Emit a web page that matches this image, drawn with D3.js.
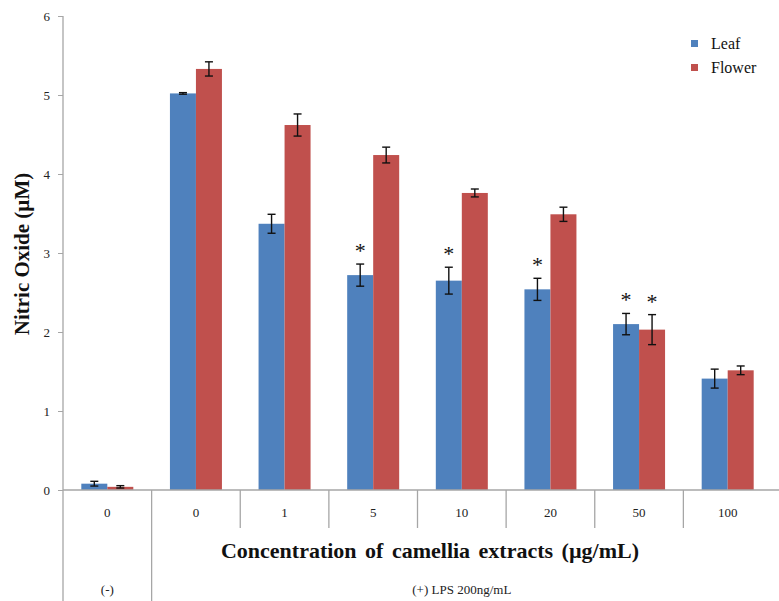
<!DOCTYPE html>
<html>
<head>
<meta charset="utf-8">
<script src="https://cdn.jsdelivr.net/npm/d3@7"></script>
<style>
  body { margin: 0; background: #fff; }
  svg { font-family: "Liberation Serif", "Times New Roman", serif; }
</style>
</head>
<body>
<div id="chart"></div>
<script>
// Nitric oxide production by camellia extracts (leaf vs flower)

const categories = ["0", "0", "1", "5", "10", "20", "50", "100"];
const seriesNames = ["Leaf", "Flower"];
const leafValues = [0.08, 5.02, 3.37, 2.72, 2.65, 2.54, 2.10, 1.41];
const leafErrors = [0.03, 0.01, 0.12, 0.14, 0.17, 0.14, 0.135, 0.12];
const flowerValues = [0.04, 5.33, 4.62, 4.24, 3.76, 3.49, 2.03, 1.515];
const flowerErrors = [0.015, 0.09, 0.14, 0.10, 0.05, 0.09, 0.19, 0.055];
// significance marks (true = asterisk above bar)
const leafStars = [false, false, false, true, true, true, true, false];
const flowerStars = [false, false, false, false, false, false, true, false];
const yTicks = [0, 1, 2, 3, 4, 5, 6];

const colors = { Leaf: "#4F81BD", Flower: "#C0504D" };

const W = 779, H = 601;
const margin = { top: 16, left: 63, right: 7, bottom: 111 };
const height = H - margin.top - margin.bottom;
const axisGrey = "#a6a6a6";

const svg = d3.select("#chart")
    .append("svg")
    .attr("width", W)
    .attr("height", H);

const x = d3.scaleBand()
    .domain(d3.range(categories.length))
    .range([margin.left, W - margin.right]);

const bw = 26;
const sub = d3.scaleBand()
    .domain(seriesNames)
    .range([x.bandwidth() / 2 - bw, x.bandwidth() / 2 + bw]);

const y = d3.scaleLinear()
    .domain([0, 6])
    .range([margin.top + height, margin.top]);

// build rows from the arrays
const rows = categories.map((c, i) => ({
    i: i,
    values: [
        { name: "Leaf", v: leafValues[i], e: leafErrors[i], star: leafStars[i] },
        { name: "Flower", v: flowerValues[i], e: flowerErrors[i], star: flowerStars[i] }
    ]
}));

// Y axis
const yAxis = svg.append("g")
    .attr("transform", `translate(${margin.left},0)`)
    .call(d3.axisLeft(y).tickValues(yTicks).tickSize(5).tickPadding(8).tickFormat(d3.format("d")));
yAxis.select(".domain").remove();
yAxis.selectAll(".tick line").attr("stroke", axisGrey);
yAxis.selectAll(".tick text")
    .style("font-size", "13px")
    .style("font-family", "'Liberation Serif', serif")
    .attr("fill", "#222");
// the vertical axis line runs down to the bottom of the category table
svg.append("line")
    .attr("x1", margin.left).attr("x2", margin.left)
    .attr("y1", y(6)).attr("y2", H)
    .attr("stroke", axisGrey).attr("stroke-width", 1.3);

// bars
const groups = svg.selectAll(".grp")
    .data(rows)
    .enter().append("g")
    .attr("transform", d => `translate(${x(d.i)},0)`);

groups.selectAll("rect")
    .data(d => d.values)
    .enter().append("rect")
    .attr("x", d => sub(d.name))
    .attr("width", sub.bandwidth())
    .attr("y", d => y(d.v))
    .attr("height", d => y(0) - y(d.v))
    .attr("fill", d => colors[d.name]);

// error bars
const err = groups.selectAll(".err")
    .data(d => d.values)
    .enter().append("g")
    .attr("transform", d => `translate(${sub(d.name) + sub.bandwidth() / 2},0)`)
    .attr("stroke", "#111")
    .attr("stroke-width", 1.4);
err.append("line")
    .attr("y1", d => y(d.v + d.e)).attr("y2", d => y(d.v - d.e));
err.append("line")
    .attr("x1", -4).attr("x2", 4)
    .attr("y1", d => y(d.v + d.e)).attr("y2", d => y(d.v + d.e));
err.append("line")
    .attr("x1", -4).attr("x2", 4)
    .attr("y1", d => y(d.v - d.e)).attr("y2", d => y(d.v - d.e));

// asterisks
groups.selectAll(".star")
    .data(d => d.values.filter(v => v.star))
    .enter().append("text")
    .attr("x", d => sub(d.name) + sub.bandwidth() / 2)
    .attr("y", d => y(d.v + d.e) - 6)
    .attr("text-anchor", "middle")
    .style("font-size", "22px")
    .attr("fill", "#111")
    .text("*");

// X axis line
svg.append("line")
    .attr("x1", margin.left).attr("x2", W)
    .attr("y1", y(0)).attr("y2", y(0))
    .attr("stroke", axisGrey).attr("stroke-width", 1.3);

// category separators
const seps = d3.range(1, categories.length);
svg.selectAll(".sep")
    .data(seps)
    .enter().append("line")
    .attr("x1", d => x(d)).attr("x2", d => x(d))
    .attr("y1", y(0))
    .attr("y2", d => d === 1 ? H : y(0) + 38)
    .attr("stroke", axisGrey).attr("stroke-width", 1.3);

// category labels
svg.selectAll(".cat")
    .data(categories)
    .enter().append("text")
    .attr("x", (d, i) => x(i) + x.bandwidth() / 2)
    .attr("y", y(0) + 27)
    .attr("text-anchor", "middle")
    .style("font-size", "13px")
    .attr("fill", "#222")
    .text(d => d);

// group labels
svg.append("text")
    .attr("x", x(0) + x.bandwidth() / 2)
    .attr("y", 594)
    .attr("text-anchor", "middle")
    .style("font-size", "13px")
    .attr("fill", "#222")
    .text("(-)");
svg.append("text")
    .attr("x", (x(1) + x.range()[1]) / 2)
    .attr("y", 594)
    .attr("text-anchor", "middle")
    .style("font-size", "13px")
    .attr("fill", "#222")
    .text("(+) LPS 200ng/mL");

// axis titles
svg.append("text")
    .attr("x", 430)
    .attr("y", 558)
    .attr("text-anchor", "middle")
    .style("font-size", "22px")
    .style("font-weight", "bold")
    .style("word-spacing", "3px")
    .attr("fill", "#111")
    .text("Concentration of camellia extracts (µg/mL)");

svg.append("text")
    .attr("transform", `translate(29,254) rotate(-90)`)
    .attr("text-anchor", "middle")
    .style("font-size", "21px")
    .style("font-weight", "bold")
    .attr("fill", "#111")
    .text("Nitric Oxide (µM)");

// legend
const legend = svg.append("g")
    .attr("transform", "translate(691,40)");
const li = legend.selectAll("g")
    .data(seriesNames)
    .enter().append("g")
    .attr("transform", (d, i) => `translate(0,${i * 24})`);
li.append("rect")
    .attr("width", 7).attr("height", 7)
    .attr("fill", d => colors[d]);
li.append("text")
    .attr("x", 20)
    .attr("y", 9)
    .style("font-size", "16px")
    .attr("fill", "#111")
    .text(d => d);
</script>
</body>
</html>
